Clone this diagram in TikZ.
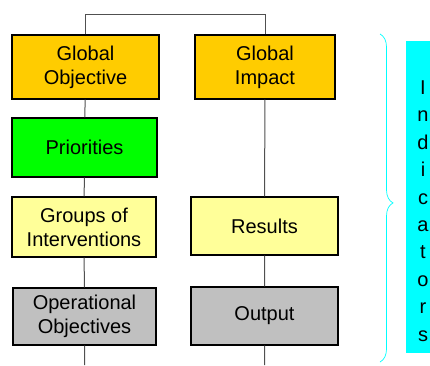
\documentclass[tikz,border=0pt]{standalone}
\usepackage{fontspec}
\setmainfont{Liberation Sans}
\usetikzlibrary{positioning,decorations.pathreplacing}

\definecolor{gold}{HTML}{FFCC00}
\definecolor{lime}{HTML}{00FF00}
\definecolor{paleyellow}{HTML}{FFFF99}
\definecolor{silver}{HTML}{C0C0C0}
\definecolor{aqua}{HTML}{00FFFF}
\definecolor{wire}{HTML}{505050}

\begin{document}
\begin{tikzpicture}[x=1pt,y=-1pt,
            box/.style={draw=black,line width=1.1pt,align=center,inner sep=0pt,
                        font=\fontsize{20}{24}\selectfont},
            link/.style={draw=wire,line width=1pt}]
            \useasboundingbox (0,0) rectangle (430,365);

            % left column
            \node[box,fill=gold,minimum width=147pt,minimum height=64pt] (go) at (85.5,67) {Global\\Objective};
            \node[box,fill=lime,minimum width=145pt,minimum height=59pt] (prio) at (84.5,147.5) {Priorities};
            \node[box,fill=paleyellow,minimum width=144pt,minimum height=60pt] (groups) at (84,227) {Groups of\\Interventions};
            \node[box,fill=silver,minimum width=143pt,minimum height=57pt] (oo) at (84.5,316.5) {Operational\\Objectives};

            % right column
            \node[box,fill=gold,minimum width=140pt,minimum height=64pt] (gimp) at (265,67) {Global\\Impact};
            \node[box,fill=paleyellow,minimum width=147pt,minimum height=58pt] (res) at (264.5,226) {Results};
            \node[box,fill=silver,minimum width=147pt,minimum height=58pt] (out) at (264.5,316) {Output};

            \coordinate (lend) at (84.5,365);
            \coordinate (rend) at (264.5,365);

            % connectors
            \path[link] (go.north) -- ++(0,-20) -| (gimp.north);
            \path[link] (go) -- (prio) (prio) -- (groups) (groups) -- (oo) (oo) -- (lend);
            \path[link] (gimp) -- (res) (res) -- (out) (out) -- (rend);

            % indicators
            \coordinate (btop) at (380,34);
            \coordinate (bbot) at (380,362);
            \draw[aqua,line width=0.7pt,decorate,
                  decoration={brace,amplitude=13pt,aspect=0.515}] (btop) -- (bbot);
            \node[fill=aqua,minimum width=24pt,minimum height=312pt,inner sep=0pt] (ind) at (418,197) {};
            \node[align=center,inner sep=0pt,font=\fontsize{20}{27.4}\selectfont] (indtext) at (423,211)
                 {I\\n\\d\\i\\c\\a\\t\\o\\r\\s};
        \end{tikzpicture}
\end{document}
